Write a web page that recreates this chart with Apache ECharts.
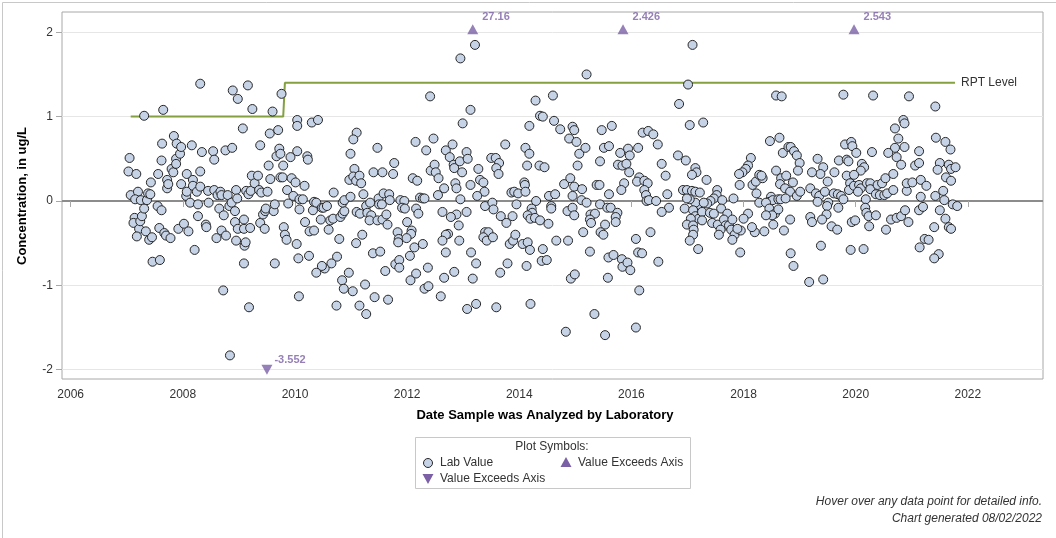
<!DOCTYPE html>
<html><head><meta charset="utf-8">
<script src="https://cdn.jsdelivr.net/npm/echarts@6/dist/echarts.min.js"></script>
<style>html,body{margin:0;padding:0;background:#fff}#c{width:1056px;height:538px}</style>
</head><body><div id="c"></div><script>
const xTickYears = [2006, 2008, 2010, 2012, 2014, 2016, 2018, 2020, 2022];
const yTickValues = [-2, -1, 0, 1, 2];

const labValuePoints = [
[2007.05,0.51],[2007.03,0.35],[2007.07,0.07],[2007.17,0.32],[2007.20,0.11],[2007.15,0.02],[2007.14,-0.20],[2007.12,-0.26],[2007.22,-0.33],[2007.18,-0.42],[2007.24,-0.24],[2007.27,-0.18],[2007.25,0.01],[2007.31,1.01],[2007.31,-0.09],[2007.36,0.01],[2007.38,0.09],[2007.42,0.08],[2007.43,0.22],[2007.34,-0.36],[2007.40,-0.46],[2007.45,-0.43],[2007.46,-0.72],[2007.59,-0.70],[2007.56,0.32],[2007.62,0.48],[2007.63,0.68],[2007.65,1.08],[2007.55,-0.06],[2007.62,-0.11],[2007.58,-0.32],[2007.67,-0.38],[2007.70,-0.41],[2007.78,-0.44],[2007.72,0.25],[2007.72,0.15],[2007.74,0.20],[2007.80,0.38],[2007.83,0.34],[2007.84,0.77],[2007.88,0.50],[2007.88,0.44],[2007.89,0.68],[2007.95,0.56],[2007.97,0.64],[2007.92,-0.33],[2007.97,0.20],[2008.02,-0.27],[2008.06,0.06],[2008.07,0.11],[2008.07,0.32],[2008.10,-0.36],[2008.13,-0.02],[2008.16,0.66],[2008.18,0.25],[2008.18,0.18],[2008.21,-0.58],[2008.25,0.11],[2008.27,-0.18],[2008.27,-0.04],[2008.31,1.39],[2008.31,0.35],[2008.31,0.17],[2008.34,0.58],[2008.41,-0.28],[2008.42,-0.31],[2008.45,0.12],[2008.46,-0.02],[2008.54,0.59],[2008.56,0.49],[2008.56,0.13],[2008.60,-0.44],[2008.62,0.07],[2008.65,-0.09],[2008.67,0.11],[2008.69,-0.35],[2008.69,0.07],[2008.73,-0.17],[2008.72,-1.06],[2008.76,0.60],[2008.77,-0.41],[2008.80,0.07],[2008.83,-0.06],[2008.87,-0.02],[2008.88,0.63],[2008.89,1.31],[2008.93,-0.12],[2008.93,-0.25],[2008.95,0.13],[2008.95,-0.47],[2008.97,0.03],[2008.98,-0.33],[2008.98,1.21],[2008.84,-1.83],[2009.07,0.86],[2009.09,-0.22],[2009.09,-0.33],[2009.10,-0.53],[2009.12,-0.49],[2009.09,-0.74],[2009.13,0.12],[2009.16,1.37],[2009.17,0.08],[2009.18,-1.26],[2009.20,-0.32],[2009.21,0.12],[2009.23,0.30],[2009.24,1.09],[2009.28,0.21],[2009.34,0.30],[2009.36,0.13],[2009.38,0.66],[2009.38,-0.26],[2009.40,0.10],[2009.43,-0.16],[2009.46,-0.33],[2009.47,-0.12],[2009.48,-0.09],[2009.51,0.11],[2009.53,0.42],[2009.55,0.80],[2009.56,0.26],[2009.60,1.06],[2009.64,-0.74],[2009.62,-0.12],[2009.64,-0.04],[2009.67,0.53],[2009.70,0.84],[2009.72,0.62],[2009.74,0.56],[2009.74,0.28],[2009.76,1.27],[2009.78,0.28],[2009.79,0.42],[2009.80,-0.31],[2009.82,-0.40],[2009.85,-0.46],[2009.86,0.13],[2009.88,-0.03],[2009.92,0.52],[2009.94,0.27],[2009.97,0.06],[2010.01,0.22],[2010.03,-0.51],[2010.04,0.96],[2010.04,0.89],[2010.04,0.59],[2010.06,-0.68],[2010.07,-1.13],[2010.08,-0.10],[2010.08,0.02],
[2010.30,0.93],[2010.41,0.96],[2010.22,0.53],[2010.23,0.49],[2010.17,0.18],[2010.14,0.02],[2010.18,-0.25],[2010.26,-0.36],[2010.34,-0.35],[2010.32,-0.11],[2010.34,-0.01],[2010.38,-0.02],[2010.25,-0.65],[2010.48,-0.08],[2010.51,-0.08],[2010.57,-0.06],[2010.46,-0.22],[2010.60,-0.34],[2010.63,-0.23],[2010.68,-0.21],[2010.69,0.10],[2010.79,-0.45],[2010.75,-0.66],[2010.65,-0.74],[2010.53,-0.80],[2010.48,-0.77],[2010.38,-0.85],[2010.74,-1.24],[2010.84,-0.94],[2010.87,-1.04],[2010.81,-0.19],[2010.85,-0.15],[2010.88,-0.12],[2010.85,-0.02],[2010.88,0.01],
[2012.41,1.24],[2012.99,0.92],[2011.10,0.81],[2011.04,0.73],[2010.99,0.56],[2011.47,0.63],[2011.06,0.38],[2010.97,0.25],[2011.04,0.29],[2011.09,0.24],[2011.15,0.30],[2011.18,0.21],[2010.99,0.05],[2011.22,0.08],[2011.10,-0.13],[2011.16,-0.15],[2011.27,-0.06],[2011.34,-0.02],[2011.29,-0.14],[2011.36,-0.17],[2011.33,-0.23],[2011.20,-0.40],[2011.09,-0.50],[2010.96,-0.85],[2011.03,-1.07],[2011.15,-1.24],[2011.27,-1.34],[2011.25,-0.99],[2011.42,-1.14],[2011.66,-1.17],[2011.39,-0.62],[2011.52,-0.60],[2011.61,-0.83],[2011.40,0.34],[2011.56,0.34],[2011.75,0.32],[2011.77,0.45],[2011.49,0.03],[2011.50,-0.04],[2011.55,-0.04],[2011.58,0.09],[2011.68,0.08],[2011.69,0.01],[2011.47,-0.23],[2011.56,-0.22],[2011.63,-0.16],[2011.65,-0.28],[2011.83,-0.37],[2011.85,-0.45],[2011.84,-0.49],[2012.00,-0.25],[2012.08,-0.35],[2012.07,-0.39],[2011.99,-0.44],[2012.13,-0.55],[2012.28,-0.51],[2012.05,-0.65],[2011.79,-0.75],[2011.86,-0.70],[2011.86,-0.79],[2012.06,-0.94],[2012.16,-0.86],[2012.37,-0.79],[2012.31,-1.04],[2012.38,-1.01],[2012.60,-1.13],[2012.66,-0.91],[2012.84,-0.84],[2011.88,0.01],[2011.95,0.00],[2011.91,-0.08],[2011.96,-0.09],[2012.16,-0.09],[2012.20,-0.15],[2012.23,0.04],[2012.28,0.03],[2012.31,0.03],[2012.10,0.27],[2012.18,0.24],[2012.15,0.70],[2012.34,0.60],[2012.47,0.74],[2012.42,0.36],[2012.49,0.43],[2012.51,0.34],[2012.56,0.27],[2012.55,0.07],[2012.66,0.15],[2012.63,-0.13],[2012.69,0.60],[2012.76,0.52],[2012.81,0.67],[2012.83,0.43],[2012.86,0.21],[2012.88,0.15],[2012.84,0.39],[2012.94,0.47],[2012.98,0.34],[2012.95,0.02],[2012.88,-0.16],[2012.78,-0.19],[2012.92,-0.29],[2012.73,-0.39],[2012.69,-0.40],[2012.63,-0.47],[2012.69,-0.61],[2012.93,-0.47],[2012.95,1.69],
[2013.21,1.85],[2013.13,1.08],[2013.06,0.58],[2013.08,0.50],[2013.27,0.38],[2013.13,0.19],[2013.30,0.25],[2013.36,0.22],[2013.38,0.11],[2013.25,0.06],[2013.06,-0.13],[2013.39,-0.06],[2013.52,-0.02],[2013.54,-0.10],[2013.67,-0.18],[2013.77,-0.26],[2013.88,-0.18],[2013.95,-0.04],[2013.39,-0.37],[2013.45,-0.37],[2013.36,-0.43],[2013.42,-0.47],[2013.53,-0.43],[2013.14,-0.61],[2013.23,-0.74],[2013.17,-0.92],[2013.07,-1.28],[2013.23,-1.22],[2013.59,-1.26],[2013.66,-0.85],[2013.79,-0.74],[2013.83,-0.51],[2013.89,-0.47],[2013.93,-0.40],[2014.06,-0.51],[2014.15,-0.49],[2014.19,-0.58],[2014.13,-0.77],[2014.20,-1.22],[2014.42,-0.57],[2014.40,-0.71],[2014.49,-0.70],[2014.66,-0.47],[2014.87,-0.47],[2014.83,-1.55],[2014.92,-0.92],[2014.99,-0.87],[2013.50,0.51],[2013.58,0.51],[2013.64,0.45],[2013.59,0.39],[2013.63,0.32],[2013.75,0.67],[2013.86,0.10],[2013.91,0.11],[2013.98,0.09],[2014.09,0.22],[2014.10,0.19],[2014.11,0.11],[2014.11,0.63],[2014.18,0.56],[2014.14,0.42],[2014.18,0.89],[2014.29,1.19],[2014.37,1.01],[2014.42,1.00],[2014.60,1.25],[2014.36,0.42],[2014.45,0.40],[2014.30,0.00],[2014.22,-0.09],[2014.23,-0.14],[2014.15,-0.17],[2014.20,-0.21],[2014.28,-0.20],[2014.37,-0.23],[2014.52,-0.27],[2014.53,0.06],[2014.57,-0.06],[2014.57,-0.09],[2014.64,0.08],[2014.62,0.95],[2014.73,0.85],[2014.95,0.88],[2014.98,0.84],[2014.89,0.74],[2015.02,0.70],[2014.80,0.20],[2014.91,0.27],[2014.98,0.17],[2014.95,0.06],[2014.86,-0.12],[2014.95,-0.08],[2014.98,-0.17],[2015.07,0.56],[2015.04,0.42],
[2015.20,1.50],[2017.01,1.38],[2016.85,1.15],[2017.04,0.90],[2015.47,0.84],[2015.65,0.89],[2015.18,0.63],[2015.51,0.63],[2015.60,0.65],[2015.44,0.47],[2015.80,0.57],[2015.94,0.62],[2015.97,0.54],[2016.12,0.63],[2015.76,0.43],[2015.84,0.42],[2015.91,0.44],[2015.96,0.34],[2016.20,0.81],[2016.30,0.83],[2016.39,0.79],[2016.47,0.67],[2016.54,0.44],[2016.61,0.30],[2016.83,0.54],[2016.97,0.48],[2016.14,0.28],[2016.10,0.23],[2016.23,0.24],[2016.29,0.21],[2015.87,0.21],[2015.82,0.13],[2015.38,0.19],[2015.43,0.19],[2015.12,0.14],[2015.60,0.08],[2016.23,0.13],[2016.26,0.07],[2016.27,0.00],[2016.31,0.01],[2016.44,0.00],[2016.64,0.08],[2016.67,-0.08],[2016.54,-0.13],[2015.11,0.01],[2015.20,-0.02],[2015.44,-0.04],[2015.57,-0.08],[2015.63,-0.08],[2015.75,-0.14],[2015.72,-0.19],[2015.72,-0.25],[2015.27,-0.16],[2015.35,-0.15],[2015.26,-0.22],[2015.28,-0.26],[2015.53,-0.28],[2015.45,-0.37],[2015.50,-0.40],[2015.14,-0.37],[2016.34,-0.37],[2016.08,-0.45],[2016.12,-0.61],[2016.19,-0.62],[2015.26,-0.60],[2015.59,-0.67],[2015.68,-0.64],[2015.83,-0.69],[2015.84,-0.78],[2015.93,-0.73],[2015.98,-0.82],[2016.48,-0.72],[2015.58,-0.91],[2016.14,-1.06],[2015.34,-1.34],[2015.53,-1.59],[2016.08,-1.50],
[2017.09,1.85],[2017.14,0.39],[2017.16,0.34],[2017.08,0.31],[2016.92,0.13],[2016.99,0.13],[2017.08,0.12],[2017.14,0.11],[2017.22,0.10],[2017.23,-0.05],[2017.14,-0.02],[2017.04,0.02],[2016.99,0.03],[2016.95,-0.09],[2017.10,-0.11],[2017.14,-0.18],[2017.20,-0.21],[2017.06,-0.21],[2016.99,-0.28],[2017.10,-0.29],[2017.11,-0.34],[2017.10,-0.40],[2017.04,-0.47],[2017.19,-0.57],[2017.34,0.25],[2017.53,0.13],[2017.52,0.07],[2017.47,0.03],[2017.41,0.00],[2017.35,-0.03],[2017.29,-0.02],[2017.26,-0.13],[2017.40,-0.14],[2017.62,0.01],[2017.60,-0.09],[2017.71,-0.15],[2017.82,0.03],[2017.47,-0.15],[2017.26,-0.23],[2017.44,-0.26],[2017.54,-0.28],[2017.65,-0.22],[2017.68,-0.29],[2017.59,-0.34],[2017.56,-0.40],[2017.74,-0.29],[2017.78,-0.34],[2017.80,-0.22],[2017.84,-0.40],[2017.80,-0.46],[2017.28,0.93],
[2018.58,1.25],[2018.68,1.24],[2018.47,0.71],[2018.64,0.75],[2018.70,0.57],[2018.80,0.64],[2018.84,0.64],[2018.90,0.59],[2018.95,0.54],[2019.00,0.45],[2018.97,0.36],[2018.13,0.51],[2018.08,0.42],[2018.04,0.38],[2017.98,0.34],[2017.92,0.32],[2017.93,0.19],[2018.16,0.19],[2018.22,0.23],[2018.28,0.31],[2018.34,0.27],[2018.32,0.30],[2018.23,0.09],[2018.58,0.36],[2018.67,0.27],[2018.65,0.20],[2018.76,0.30],[2018.88,0.22],[2018.74,0.15],[2018.83,0.11],[2018.95,0.06],[2019.01,0.11],[2018.49,0.05],[2018.46,-0.01],[2018.52,0.01],[2018.62,0.02],[2018.66,0.02],[2018.75,0.03],[2018.28,-0.02],[2018.40,-0.02],[2018.46,-0.09],[2018.56,-0.15],[2018.62,-0.10],[2018.51,-0.17],[2018.40,-0.17],[2018.53,-0.28],[2018.37,-0.36],[2018.20,-0.37],[2018.15,-0.31],[2018.08,-0.15],[2018.00,-0.21],[2017.95,-0.35],[2017.89,-0.33],[2017.94,-0.61],[2018.83,-0.22],[2018.72,-0.35],[2018.84,-0.62],[2018.89,-0.77],
[2019.78,1.26],[2020.31,1.25],[2020.95,1.24],[2020.85,0.96],[2020.87,0.92],[2020.70,0.86],[2020.76,0.74],[2020.70,0.63],[2020.87,0.64],[2020.73,0.52],[2020.81,0.43],[2020.58,0.57],[2020.29,0.58],[2019.81,0.67],[2019.92,0.70],[2019.94,0.65],[2020.01,0.57],[2019.70,0.48],[2019.84,0.49],[2019.87,0.47],[2019.32,0.50],[2019.42,0.40],[2019.37,0.32],[2019.22,0.34],[2019.62,0.34],[2019.50,0.23],[2020.11,0.44],[2020.15,0.40],[2020.09,0.36],[2019.84,0.30],[2019.97,0.31],[2019.90,0.21],[2019.88,0.13],[2019.97,0.18],[2020.06,0.19],[2020.09,0.15],[2020.04,0.11],[2020.20,0.21],[2020.26,0.21],[2020.26,0.14],[2020.39,0.19],[2020.47,0.21],[2020.53,0.27],[2020.67,0.32],[2020.36,0.08],[2020.43,0.07],[2020.51,0.07],[2020.56,0.09],[2020.67,0.13],[2020.18,0.02],[2019.19,0.15],[2019.29,0.09],[2019.35,0.06],[2019.45,0.11],[2019.61,0.09],[2019.68,0.08],[2019.74,0.06],[2019.78,0.02],[2019.32,-0.01],[2019.51,-0.02],[2019.49,-0.06],[2019.69,-0.08],[2019.48,-0.16],[2019.40,-0.22],[2019.19,-0.19],[2019.22,-0.25],[2019.57,-0.30],[2019.67,-0.34],[2019.93,-0.25],[2019.99,-0.23],[2020.17,-0.08],[2020.19,-0.14],[2020.23,-0.18],[2020.36,-0.17],[2020.24,-0.30],[2020.54,-0.34],[2020.63,-0.22],[2020.73,-0.20],[2020.81,-0.18],[2020.94,-0.25],[2020.88,-0.11],[2020.91,0.12],[2020.91,0.21],[2021.01,0.22],[2021.06,0.42],[2021.13,0.45],[2021.13,0.59],[2021.16,0.25],[2021.16,0.05],[2021.13,-0.11],[2019.38,-0.53],[2019.91,-0.58],[2020.14,-0.57],[2019.17,-0.96],[2019.42,-0.93],[2021.14,-0.55],[2021.23,-0.45],
[2021.42,1.12],[2021.43,0.75],[2021.60,0.70],[2021.69,0.61],[2021.50,0.45],[2021.46,0.37],[2021.66,0.43],[2021.70,0.38],[2021.78,0.40],[2021.61,0.28],[2021.70,0.24],[2021.26,0.18],[2021.56,0.12],[2021.42,0.06],[2021.58,0.01],[2021.73,-0.04],[2021.81,-0.06],[2021.20,-0.07],[2021.50,-0.11],[2021.60,-0.21],[2021.66,-0.31],[2021.70,-0.33],[2021.40,-0.31],[2021.30,-0.46],[2021.48,-0.63],[2021.40,-0.68]
];

const rptYears = [2007.07, 2009.79, 2009.82, 2021.77];
const rptLevels = [1.0, 1.0, 1.4, 1.4];

const exceedUpYears = [2013.17, 2015.85, 2019.97];
const exceedUpValues = [27.16, 2.426, 2.543];
const exceedDownYears = [2009.50];
const exceedDownValues = [-3.552];

const X_MIN = 2005.845, X_MAX = 2023.34;
const Y_MIN = -2.11, Y_MAX = 2.24;
const CAP_HIGH = 2.035, CAP_LOW = -2.0;

const FONT = '"Liberation Sans", Arial, sans-serif';
const PURPLE = '#7b60a6';
const PT_FILL = '#c6d3e6';
const PT_EDGE = '#262626';
const GREEN = '#84a040';

const chart = echarts.init(document.getElementById('c'), null, {renderer: 'canvas'});

const option = {
  animation: false,
  backgroundColor: '#fff',
  textStyle: {fontFamily: FONT},
  tooltip: {trigger: 'item'},
  grid: {left: 62, right: 13, top: 12, bottom: 159, show: true, borderColor: '#a8a8a8', borderWidth: 1, containLabel: false},
  xAxis: {
    type: 'value', min: X_MIN, max: X_MAX,
    axisLine: {show: false},
    splitLine: {show: false},
    axisTick: {show: true, customValues: xTickYears, length: 6, lineStyle: {color: '#a8a8a8'}},
    axisLabel: {customValues: xTickYears, color: '#333', fontSize: 12, margin: 10, fontFamily: FONT, formatter: v => String(v)}
  },
  yAxis: {
    type: 'value', min: Y_MIN, max: Y_MAX,
    axisLine: {show: false},
    splitLine: {show: false},
    axisTick: {show: true, customValues: yTickValues, length: 6, lineStyle: {color: '#a8a8a8'}},
    axisLabel: {customValues: yTickValues, color: '#333', fontSize: 12, margin: 9, fontFamily: FONT, formatter: v => String(v)}
  },
  series: [
    {
      name: 'grid', type: 'line', data: [[X_MIN, 0]], showSymbol: false, silent: true, z: 0,
      lineStyle: {opacity: 0}, tooltip: {show: false},
      markLine: {
        silent: true, symbol: 'none', label: {show: false}, animation: false, z: 0,
        data: yTickValues.map(v => ({yAxis: v, lineStyle: v === 0 ? {color: '#8c8c8c', width: 2, type: 'solid'} : {color: '#e6e6e6', width: 1, type: 'solid'}}))
      }
    },
    {
      name: 'RPT Level', type: 'line', z: 3, showSymbol: false, silent: true,
      data: rptYears.map((x, i) => [x, rptLevels[i]]),
      lineStyle: {color: GREEN, width: 2},
      endLabel: {show: true, formatter: 'RPT Level', color: '#333', fontSize: 12, distance: 6, fontFamily: FONT}
    },
    {
      name: 'Lab Value', type: 'scatter', z: 5,
      data: labValuePoints,
      symbol: 'circle', symbolSize: 9,
      itemStyle: {color: PT_FILL, borderColor: PT_EDGE, borderWidth: 1, opacity: 1}
    },
    {
      name: 'Value Exceeds Axis', type: 'scatter', z: 6,
      data: exceedUpYears.map(x => [x, CAP_HIGH]),
      symbol: 'triangle', symbolSize: [11, 10],
      itemStyle: {color: PURPLE},
      label: {show: true, position: 'right', distance: 4, offset: [0, -12], color: PURPLE, fontWeight: 'bold', fontSize: 11, fontFamily: FONT,
        formatter: p => String(exceedUpValues[p.dataIndex])}
    },
    {
      name: 'Value Exceeds Axis (low)', type: 'scatter', z: 6,
      data: exceedDownYears.map(x => [x, CAP_LOW]),
      symbol: 'triangle', symbolRotate: 180, symbolSize: [11, 10],
      itemStyle: {color: PURPLE},
      label: {show: true, position: 'right', distance: 2, offset: [0, -10], color: PURPLE, fontWeight: 'bold', fontSize: 11, fontFamily: FONT,
        formatter: p => String(exceedDownValues[p.dataIndex])}
    }
  ],
  graphic: [
    {type: 'rect', left: 0, top: 0, z: 0, silent: true, shape: {x: 0.5, y: 0.5, width: 1055, height: 537}, style: {fill: 'none', stroke: '#c8c8c8', lineWidth: 1}},
    {type: 'text', x: 22, y: 196, rotation: Math.PI / 2, silent: true,
      style: {text: 'Concentration, in ug/L', font: 'bold 13px ' + FONT, fill: '#000', textAlign: 'center', textVerticalAlign: 'middle'}},
    {type: 'text', x: 545, y: 415, silent: true,
      style: {text: 'Date Sample was Analyzed by Laboratory', font: 'bold 13px ' + FONT, fill: '#000', textAlign: 'center', textVerticalAlign: 'middle'}},
    {type: 'rect', silent: true, shape: {x: 415.5, y: 437.5, width: 275, height: 51}, style: {fill: '#fff', stroke: '#c8c8c8', lineWidth: 1}},
    {type: 'text', x: 552, y: 447, silent: true, style: {text: 'Plot Symbols:', font: '12px ' + FONT, fill: '#333', textAlign: 'center', textVerticalAlign: 'middle'}},
    {type: 'circle', silent: true, shape: {cx: 428, cy: 463, r: 4.5}, style: {fill: PT_FILL, stroke: PT_EDGE, lineWidth: 1}},
    {type: 'text', x: 440, y: 463, silent: true, style: {text: 'Lab Value', font: '12px ' + FONT, fill: '#333', textAlign: 'left', textVerticalAlign: 'middle'}},
    {type: 'polygon', silent: true, shape: {points: [[566, 457], [571.5, 467], [560.5, 467]]}, style: {fill: PURPLE}},
    {type: 'text', x: 578, y: 463, silent: true, style: {text: 'Value Exceeds Axis', font: '12px ' + FONT, fill: '#333', textAlign: 'left', textVerticalAlign: 'middle'}},
    {type: 'polygon', silent: true, shape: {points: [[422.5, 474], [433.5, 474], [428, 484]]}, style: {fill: PURPLE}},
    {type: 'text', x: 440, y: 479, silent: true, style: {text: 'Value Exceeds Axis', font: '12px ' + FONT, fill: '#333', textAlign: 'left', textVerticalAlign: 'middle'}},
    {type: 'text', x: 1042, y: 502, silent: true, style: {text: 'Hover over any data point for detailed info.', font: 'italic 12px ' + FONT, fill: '#333', textAlign: 'right', textVerticalAlign: 'middle'}},
    {type: 'text', x: 1042, y: 519, silent: true, style: {text: 'Chart generated 08/02/2022', font: 'italic 12px ' + FONT, fill: '#333', textAlign: 'right', textVerticalAlign: 'middle'}}
  ]
};
chart.setOption(option);
</script></body></html>
